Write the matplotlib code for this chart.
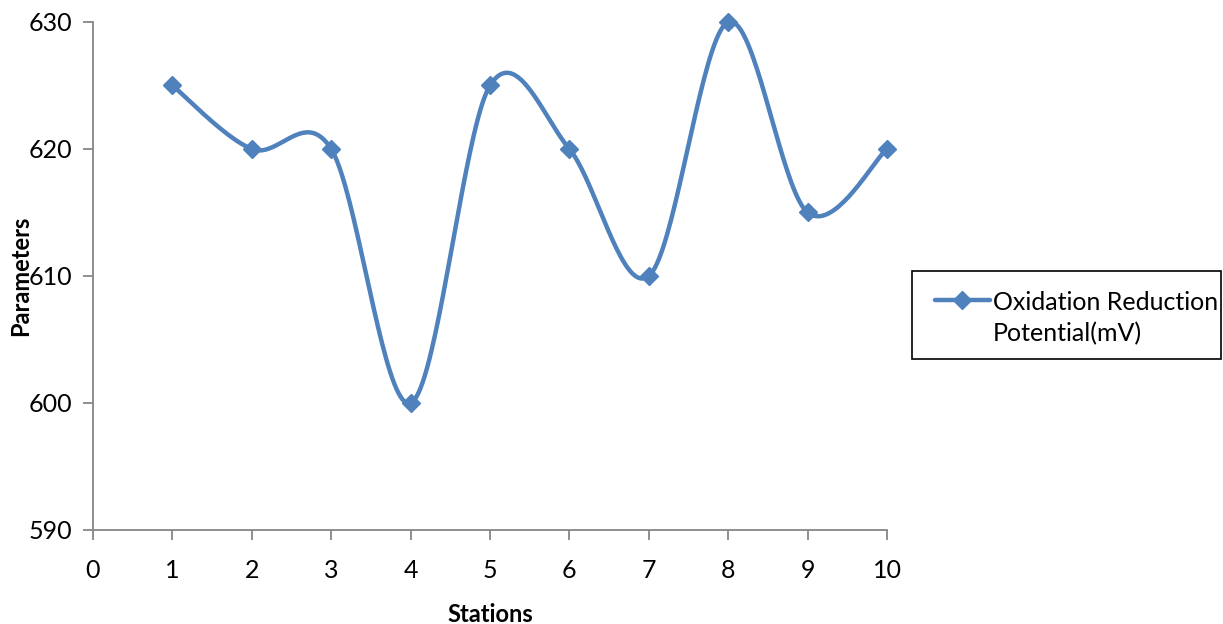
import numpy as np
import matplotlib
matplotlib.use("Agg")
import matplotlib.pyplot as plt
from matplotlib.lines import Line2D
from matplotlib.patches import Rectangle

stations = [1, 2, 3, 4, 5, 6, 7, 8, 9, 10]
orp = [625, 620, 620, 600, 625, 620, 610, 630, 615, 620]
series_label = "Oxidation Reduction\nPotential(mV)"
x_ticks = list(range(0, 11))
y_ticks = [590, 600, 610, 620, 630]

plt.rcParams['font.family'] = ['Lato', 'DejaVu Sans']

def excel_smooth(xs, ys, n=40):
    xs = np.asarray(xs, float); ys = np.asarray(ys, float)
    px = np.concatenate([[xs[0]], xs, [xs[-1]]])
    py = np.concatenate([[ys[0]], ys, [ys[-1]]])
    outx, outy = [], []
    t = np.linspace(0, 1, n)
    for i in range(1, len(px) - 2):
        p0 = np.array([px[i], py[i]]); p3 = np.array([px[i+1], py[i+1]])
        c1 = p0 + (np.array([px[i+1], py[i+1]]) - np.array([px[i-1], py[i-1]])) / 6
        c2 = p3 - (np.array([px[i+2], py[i+2]]) - np.array([px[i], py[i]])) / 6
        b = ((1-t)**3)[:, None]*p0 + (3*(1-t)**2*t)[:, None]*c1 + (3*(1-t)*t**2)[:, None]*c2 + (t**3)[:, None]*p3
        outx.extend(b[:, 0]); outy.extend(b[:, 1])
    return np.array(outx), np.array(outy)

W, H = 1223, 624
color = '#4F81BD'
fig = plt.figure(figsize=(W/100, H/100), dpi=100)
ax = fig.add_axes([93/W, 1-530/H, 794/W, 508/H])
sx, sy = excel_smooth(stations, orp)
ax.plot(sx, sy, color=color, lw=3.2, solid_capstyle='round', zorder=2, clip_on=False)
ax.plot(stations, orp, ls='none', marker='D', ms=9.5, color=color, zorder=3, clip_on=False)

ax.set_xlim(0, 10)
ax.set_ylim(590, 630)
ax.set_xticks(x_ticks)
ax.set_yticks(y_ticks)
for s in ['top', 'right']:
    ax.spines[s].set_visible(False)
for s in ['left', 'bottom']:
    ax.spines[s].set_color('#868686')
    ax.spines[s].set_linewidth(1.3)
ax.tick_params(axis='both', colors='#868686', labelcolor='black', labelsize=18,
               length=7, width=1.3, direction='out')
ax.tick_params(axis='x', pad=14)
ax.tick_params(axis='y', pad=8)
ax.set_xlabel('Stations', fontsize=17, fontweight='bold', labelpad=15)
ax.set_ylabel('Parameters', fontsize=17, fontweight='bold')
ax.yaxis.set_label_coords(-0.077, 0.5)

# legend box drawn in figure pixel coordinates
def fx(px): return px / W
def fy(py): return 1 - py / H
fig.patches.append(Rectangle((fx(912), fy(359)), fx(1221) - fx(912), fy(271) - fy(359),
                             transform=fig.transFigure, fill=False, edgecolor='black', lw=1.2))
fig.lines.append(Line2D([fx(935), fx(990)], [fy(300), fy(300)], transform=fig.transFigure,
                        color=color, lw=3.2, solid_capstyle='round'))
fig.lines.append(Line2D([fx(962)], [fy(300)], transform=fig.transFigure,
                        color=color, marker='D', ms=9.5, ls='none'))
fig.text(fx(993), fy(318), series_label, fontsize=18, ha='left', va='center',
         linespacing=1.45)

fig.savefig('out.png', dpi=100)
